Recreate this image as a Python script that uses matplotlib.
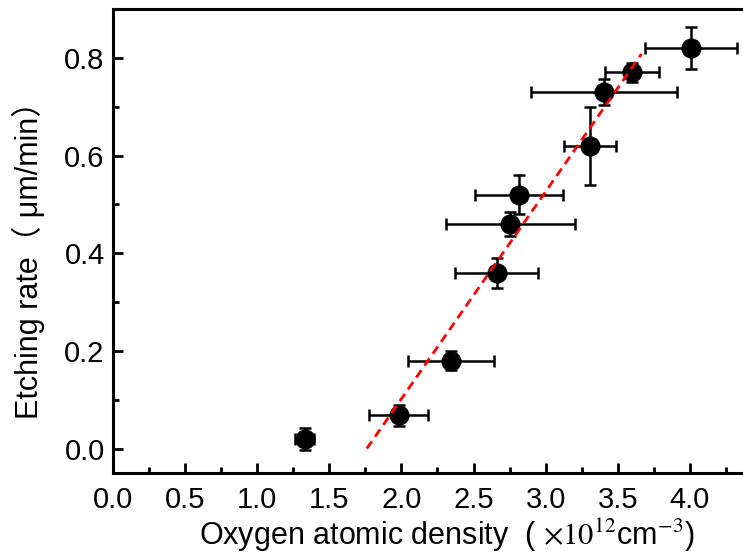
import matplotlib
matplotlib.use("Agg")
import matplotlib.pyplot as plt
from matplotlib.ticker import MultipleLocator, FixedLocator, FormatStrFormatter

# Data
density = [1.33, 1.98, 2.345, 2.66, 2.756, 2.818, 3.305, 3.404, 3.60, 4.008]
rate = [0.02, 0.068, 0.18, 0.36, 0.46, 0.52, 0.62, 0.73, 0.77, 0.82]
density_err = [0.065, 0.205, 0.30, 0.29, 0.445, 0.305, 0.18, 0.507, 0.185, 0.32]
rate_err = [0.023, 0.021, 0.02, 0.031, 0.025, 0.04, 0.08, 0.026, 0.02, 0.043]
fit_x = [1.76, 3.665]
fit_y = [0.0, 0.808]
x_ticks = [0.0, 0.5, 1.0, 1.5, 2.0, 2.5, 3.0, 3.5, 4.0]
y_ticks = [0.0, 0.2, 0.4, 0.6, 0.8]

plt.rcParams['font.family'] = ['Liberation Sans', 'Noto Sans CJK SC', 'DejaVu Sans']
plt.rcParams['mathtext.fontset'] = 'stix'

fig = plt.figure(figsize=(7.43, 5.55), dpi=100)
W, H = 743, 555
left_px, right_px = 113, 113 + 4.5 * 144.2
top_px, bot_px = 9, 473
ax = fig.add_axes([left_px / W, 1 - bot_px / H, (right_px - left_px) / W, (bot_px - top_px) / H])

ax.errorbar(density, rate, xerr=density_err, yerr=rate_err, fmt='o', color='black',
            markersize=13.5, elinewidth=1.8, capsize=4.2, capthick=1.8, zorder=3)
ax.plot(fit_x, fit_y, color='#ff0000', linewidth=2.0, linestyle=(0, (3.2, 2.0)), zorder=4)

ax.set_xlim(0, 4.5)
ax.set_ylim(-0.05, 0.9)
ax.xaxis.set_major_locator(FixedLocator(x_ticks))
ax.xaxis.set_minor_locator(MultipleLocator(0.25))
ax.yaxis.set_major_locator(FixedLocator(y_ticks))
ax.yaxis.set_minor_locator(MultipleLocator(0.1))
ax.xaxis.set_major_formatter(FormatStrFormatter('%.1f'))
ax.yaxis.set_major_formatter(FormatStrFormatter('%.1f'))

for s in ax.spines.values():
    s.set_linewidth(2.2)
ax.tick_params(axis='both', which='major', direction='in', length=7.5, width=2.0,
               labelsize=21, top=False, right=False)
ax.tick_params(axis='both', which='minor', direction='in', length=4, width=2.0,
               top=False, right=False)
ax.tick_params(axis='x', which='major', pad=9)
ax.tick_params(axis='y', which='major', pad=6)

ax.set_xlabel("Oxygen atomic density  ( $\\times10^{12}$cm$^{-3}$)", fontsize=22)
ax.set_ylabel("Etching rate（ μm/min）", fontsize=22)
ax.xaxis.set_label_coords((447 - left_px) / (right_px - left_px), -0.095)
ax.yaxis.set_label_coords(-0.105, 0.474)

fig.savefig("out.png", dpi=100)
